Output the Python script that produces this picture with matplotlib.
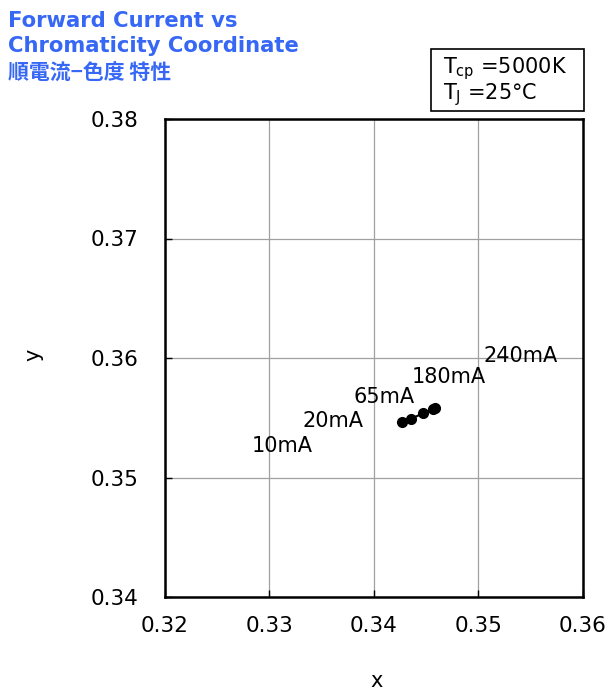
#!/usr/bin/env python3
"""Forward current vs chromaticity coordinate (x, y)."""

import matplotlib
matplotlib.use('Agg')
import matplotlib.pyplot as plt
from matplotlib.patches import Rectangle

plt.rcParams.update({
    'font.family': ['DejaVu Sans', 'Noto Sans CJK JP'],
    'font.size': 15,
    'figure.facecolor': 'white',
})

TITLE_COLOR = '#3768f5'

# chromaticity readings per drive current
currents = ['10mA', '20mA', '65mA', '180mA', '240mA']
cie_x = [0.3427, 0.3435, 0.3447, 0.3456, 0.3458]
cie_y = [0.35462, 0.35490, 0.35537, 0.35571, 0.35579]

# label anchors (data coords, centre of text)
label_x = [0.3312, 0.3361, 0.3410, 0.3472, 0.3540]
label_y = [0.35262, 0.35475, 0.35675, 0.35845, 0.36020]

x_ticks = [0.32, 0.33, 0.34, 0.35, 0.36]
y_ticks = [0.34, 0.35, 0.36, 0.37, 0.38]

fig = plt.figure(figsize=(6.06, 6.90), dpi=100)
W, H = 606, 690
ax = fig.add_axes([165 / W, 1 - 597 / H, (583 - 165) / W, (597 - 119) / H])

ax.plot(cie_x, cie_y, color='black', linewidth=1.5, marker='o',
        markersize=7, zorder=3)
for lab, lx, ly in zip(currents, label_x, label_y):
    ax.text(lx, ly, lab, ha='center', va='center', fontsize=15, zorder=4)

ax.set_xlim(0.32, 0.36)
ax.set_ylim(0.34, 0.38)
ax.set_xticks(x_ticks)
ax.set_yticks(y_ticks)
ax.set_xticklabels([f'{v:.2f}' for v in x_ticks])
ax.set_yticklabels([f'{v:.2f}' for v in y_ticks])
ax.tick_params(direction='in', length=5, width=1, labelsize=15.5)
ax.tick_params(axis='x', pad=14)
ax.tick_params(axis='y', pad=19)
ax.grid(True, color='#a0a0a0', linewidth=0.9)
ax.set_axisbelow(True)
for sp in ax.spines.values():
    sp.set_linewidth(1.8)

fig.text(377 / W, 1 - 681 / H, 'x', ha='center', va='center', fontsize=15)
fig.text(33 / W, 1 - 355 / H, 'y', ha='center', va='center', fontsize=15,
         rotation=90)

fig.text(8 / W, 1 - 21 / H, 'Forward Current vs', color=TITLE_COLOR,
         fontsize=15.2, fontweight='bold', ha='left', va='center')
fig.text(8 / W, 1 - 46 / H, 'Chromaticity Coordinate', color=TITLE_COLOR,
         fontsize=15.2, fontweight='bold', ha='left', va='center')
fig.text(8 / W, 1 - 73 / H, '順電流−色度 特性', color=TITLE_COLOR,
         fontsize=15, fontweight='bold', ha='left', va='center',
         family=['Noto Sans CJK JP', 'DejaVu Sans'])

fig.patches.append(Rectangle((431 / W, 1 - 111 / H), (584 - 431) / W,
                             (111 - 49) / H, transform=fig.transFigure,
                             fill=False, edgecolor='black', linewidth=1.2))
fig.text(443 / W, 1 - 69 / H, r'T$_{\mathregular{cp}}$ =5000K',
         fontsize=15, ha='left', va='center')
fig.text(443 / W, 1 - 95 / H, r'T$_{\mathregular{J}}$ =25°C',
         fontsize=15, ha='left', va='center')

fig.savefig('out.png', dpi=100)
